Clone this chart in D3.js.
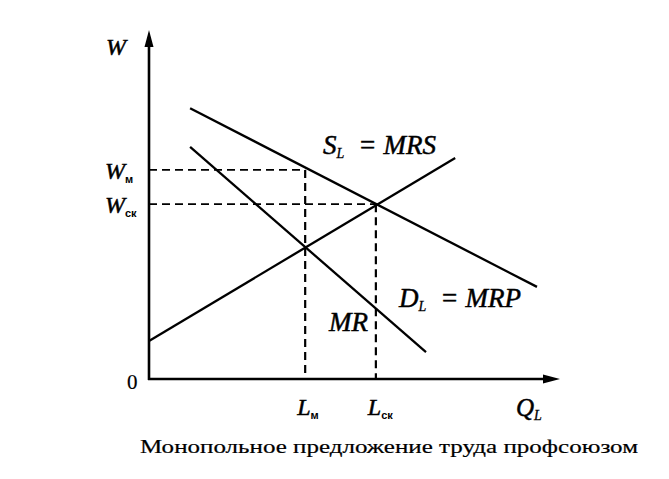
<!DOCTYPE html>
<html><head><meta charset="utf-8">
<script src="https://cdn.jsdelivr.net/npm/d3@7"></script>
<style>
html,body{margin:0;padding:0;background:#fff;}
svg{display:block;}
</style>
</head><body>
<svg id="chart" width="669" height="479"></svg>
<script>
// ---- data (model units: Q and W both on a 0..10 scale) ----
const demandMRP = [[1.0, 7.76], [9.44, 2.64]];
const marginalRevenue = [[1.0, 6.65], [6.74, 0.77]];
const supplyMRS = [[0, 1.09], [7.45, 6.33]];
const wageLevels = [5.99, 5.01];      // W_м, W_ск
const wageNames = [["W", "м"], ["W", "ск"]];
const laborLevels = [3.80, 5.52];     // L_м, L_ск
const laborNames = [["L", "м"], ["L", "ск"]];
const caption = "Монопольное предложение труда профсоюзом";

const svg = d3.select("#chart");
const x = d3.scaleLinear().domain([0, 10]).range([149, 560]);
const y = d3.scaleLinear().domain([0, 10]).range([379, 30]);
const line = d3.line().x(d => x(d[0])).y(d => y(d[1]));

const serif = "'Liberation Serif','Times New Roman',serif";
const sans = "'Liberation Sans',Arial,sans-serif";

// dashed guides
wageLevels.forEach((w, i) => {
  const q = laborLevels[i];
  svg.append("path").attr("d", line([[0, w], [q, w]]))
    .attr("stroke", "#000").attr("stroke-width", 1.8).attr("fill", "none")
    .attr("stroke-dasharray", "8,5");
  svg.append("path").attr("d", line([[q, w], [q, 0]]))
    .attr("stroke", "#000").attr("stroke-width", 2.2).attr("fill", "none")
    .attr("stroke-dasharray", "8,5");
});

// curves
[demandMRP, marginalRevenue, supplyMRS].forEach(d => {
  svg.append("path").attr("d", line(d))
    .attr("stroke", "#000").attr("stroke-width", 2.3).attr("fill", "none");
});

// axes
const x0 = x(0), y0 = y(0), xEnd = x(10), yEnd = y(10);
svg.append("line").attr("x1", x0).attr("y1", y0 + 1).attr("x2", x0).attr("y2", yEnd + 12)
  .attr("stroke", "#000").attr("stroke-width", 2.6);
svg.append("line").attr("x1", x0 - 1).attr("y1", y0).attr("x2", xEnd - 12).attr("y2", y0)
  .attr("stroke", "#000").attr("stroke-width", 2.6);
svg.append("path").attr("d", `M${x0},${yEnd} L${x0 - 4.5},${yEnd + 17} L${x0 + 4.5},${yEnd + 17} Z`).attr("fill", "#000");
svg.append("path").attr("d", `M${xEnd},${y0} L${xEnd - 17},${y0 - 4.5} L${xEnd - 17},${y0 + 4.5} Z`).attr("fill", "#000");

function label(xp, yp, main, sub, subFamily, size) {
  const t = svg.append("text").attr("x", xp).attr("y", yp)
    .attr("font-family", serif).attr("font-style", "italic").attr("font-size", size || 25)
    .attr("stroke", "#000").attr("stroke-width", 0.5);
  t.append("tspan").text(main);
  if (sub) {
    t.append("tspan").attr("dy", 4)
      .attr("font-family", subFamily === "sans" ? sans : serif)
      .attr("font-style", subFamily === "sans" ? "normal" : "italic")
      .attr("font-weight", subFamily === "sans" ? "bold" : "normal")
      .attr("stroke-width", subFamily === "sans" ? 0 : 0.3)
      .attr("font-size", subFamily === "sans" ? 11 : 14)
      .text(sub);
  }
  return t;
}

// axis labels
label(106, 55, "W", null, null, 24);
label(127, 389, "0", null, null, 21).attr("font-style", "normal").attr("stroke-width", 0.2);
label(516, 416, "Q", "L", "serif", 25);

wageLevels.forEach((w, i) => {
  label(105, y(w) + 9, wageNames[i][0], wageNames[i][1], "sans", 24);
});
laborLevels.forEach((q, i) => {
  label(x(q) - 8, 415, laborNames[i][0], laborNames[i][1], "sans", 24);
});

// curve labels
function eqLabel(xp, yp, main, sub, rhs) {
  const t = label(xp, yp, main, sub, "serif", 27);
  t.append("tspan").attr("dy", -4).attr("dx", 14).text("=");
  t.append("tspan").attr("dx", 7).text(rhs);
  return t;
}
eqLabel(323, 154, "S", "L", "MRS");
eqLabel(399, 307, "D", "L", "MRP");
label(329, 331, "MR", null, null, 27);

// caption
svg.append("text").attr("x", 140).attr("y", 453)
  .attr("font-family", serif).attr("font-size", 19)
  .attr("textLength", 498).attr("lengthAdjust", "spacingAndGlyphs")
  .attr("stroke", "#000").attr("stroke-width", 0.2)
  .text(caption);
</script>
</body></html>
